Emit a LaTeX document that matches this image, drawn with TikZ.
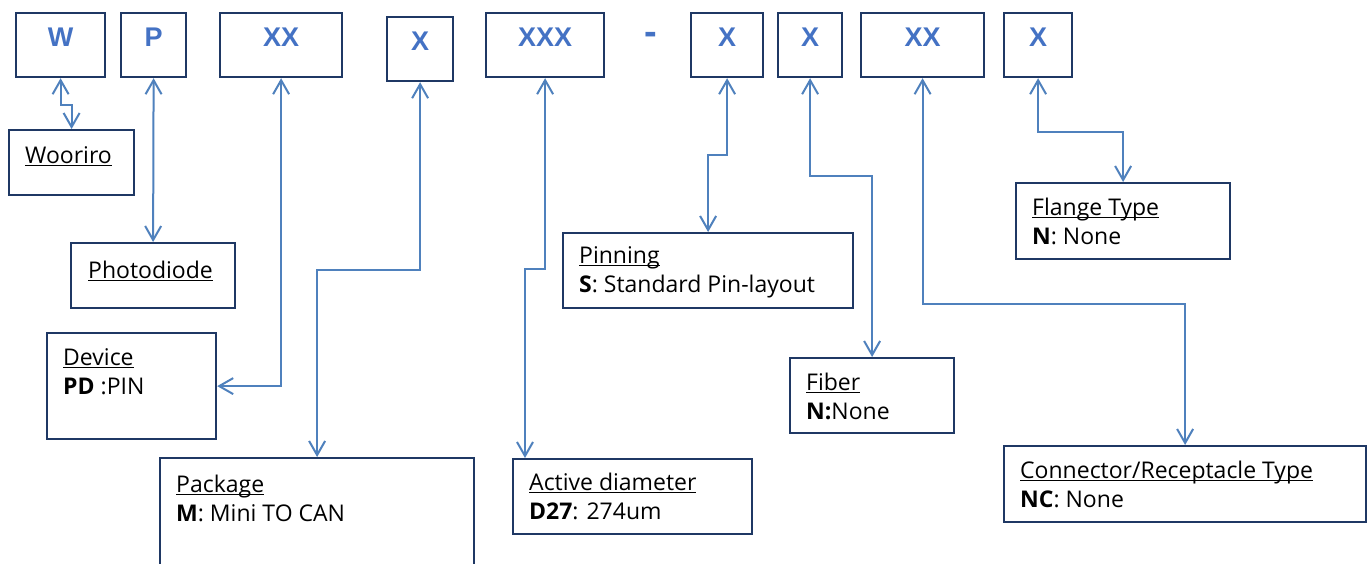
\documentclass[tikz,border=0pt]{standalone}
\usepackage{fontspec}
\setmainfont{Open Sans}
\newfontfamily\codefont{Liberation Sans}
\usetikzlibrary{arrows.meta,positioning}

\definecolor{boxcol}{RGB}{31,56,100}
\definecolor{linkcol}{RGB}{79,129,189}
\definecolor{codecol}{RGB}{68,114,196}
\newcommand\ulin[1]{\setbox0\hbox{#1}\rlap{\rule[-3pt]{\wd0}{1pt}}\box0}
\newcommand\topstrut{\rule{0pt}{25pt}}

\tikzset{
  codebox/.style={draw=boxcol, line width=2.2pt, anchor=north west, inner sep=0pt,
    text height=33pt, text depth=31pt, text=codecol,
    font=\codefont\bfseries\fontsize{27}{27}\selectfont},
  descbox/.style={draw=boxcol, line width=2.2pt, anchor=north west, inner sep=0pt},
  desctext/.style={anchor=north west, inner sep=0pt, align=left,
    font=\fontsize{23}{29}\selectfont},
  link/.style={draw=linkcol, line width=2pt,
    {Straight Barb[length=14pt,width=16pt]}-{Straight Barb[length=14pt,width=16pt]}}
}

\begin{document}
\begin{tikzpicture}[x=1pt,y=-1pt]
  \path[use as bounding box, fill=white] (0,0) rectangle (1370,563);

  % code boxes
  \node[codebox, minimum width=89pt]  (w)   at (15,12)  {W};
  \node[codebox, minimum width=65pt]  (p)   at (120,12) {P};
  \node[codebox, minimum width=122pt] (xx1) at (219,12) {XX};
  \node[codebox, minimum width=66pt]  (x1)  at (386,16) {X};
  \node[codebox, minimum width=118pt] (xxx) at (485,12) {XXX};
  \node[text=codecol, font=\codefont\bfseries\fontsize{38}{38}\selectfont] (dash) at (651,38) {-};
  \node[codebox, minimum width=72pt]  (x2)  at (690,12) {X};
  \node[codebox, minimum width=64pt]  (x3)  at (777,12) {X};
  \node[codebox, minimum width=123pt] (xx2) at (860,12) {XX};
  \node[codebox, minimum width=68pt]  (x4)  at (1003,12) {X};

  % description boxes
  \node[descbox, minimum width=125pt, minimum height=65pt]  (woo)   at (8,129) {};
  \node[descbox, minimum width=164pt, minimum height=65pt]  (photo) at (70,242) {};
  \node[descbox, minimum width=169pt, minimum height=106pt] (dev)   at (46,332) {};
  \node[descbox, minimum width=314pt, minimum height=112pt] (pkg)   at (159,457) {};
  \node[descbox, minimum width=239pt, minimum height=75pt]  (act)   at (512,458) {};
  \node[descbox, minimum width=290pt, minimum height=75pt]  (pin)   at (562,232) {};
  \node[descbox, minimum width=164pt, minimum height=75pt]  (fib)   at (789,357) {};
  \node[descbox, minimum width=362pt, minimum height=76pt]  (con)   at (1003,445) {};
  \node[descbox, minimum width=214pt, minimum height=76pt]  (fla)   at (1015,182) {};

  \node[desctext] (woo-t)   at ([shift={(17,9)}]woo.north west)   {\topstrut\ulin{Wooriro}};
  \node[desctext] (photo-t) at ([shift={(18,11)}]photo.north west) {\topstrut\ulin{Photodiode}};
  \node[desctext] (dev-t)   at ([shift={(17,8)}]dev.north west)   {\topstrut\ulin{Device}\\\textbf{PD} :PIN};
  \node[desctext] (pkg-t)   at ([shift={(17,10)}]pkg.north west)  {\topstrut\ulin{Package}\\\textbf{M}: Mini TO CAN};
  \node[desctext] (act-t)   at ([shift={(17,7)}]act.north west)   {\topstrut\ulin{Active diameter}\\\textbf{D27}: 274um};
  \node[desctext] (pin-t)   at ([shift={(17,6)}]pin.north west)   {\topstrut\ulin{Pinning}\\\textbf{S}: Standard Pin-layout};
  \node[desctext] (fib-t)   at ([shift={(17,8)}]fib.north west)   {\topstrut\ulin{Fiber}\\\textbf{N:}None};
  \node[desctext] (con-t)   at ([shift={(17,8)}]con.north west)   {\topstrut\ulin{Connector/Receptacle Type}\\\textbf{NC}: None};
  \node[desctext] (fla-t)   at ([shift={(17,8)}]fla.north west)   {\topstrut\ulin{Flange Type}\\\textbf{N}: None};

  % connectors
  \draw[link] (w.south) -- ++(0,27) -| (woo.north);
  \draw[link] (p.south) -- (photo.north);
  \draw[link] (xx1.south) |- (dev.east);
  \draw[link] (x1.south) -- ++(0,188) -| (pkg.north);
  \draw[link] (xxx.south) -- ++(0,191) -| ([xshift=13pt]act.north west);
  \draw[link] (x2.south) -- ++(0,77) -| (pin.north);
  \draw[link] (x3.south) -- ++(0,98) -| (fib.north);
  \draw[link] (xx2.south) -- ++(0,226) -| (con.north);
  \draw[link] (x4.south) -- ++(0,54) -| (fla.north);
\end{tikzpicture}
\end{document}
